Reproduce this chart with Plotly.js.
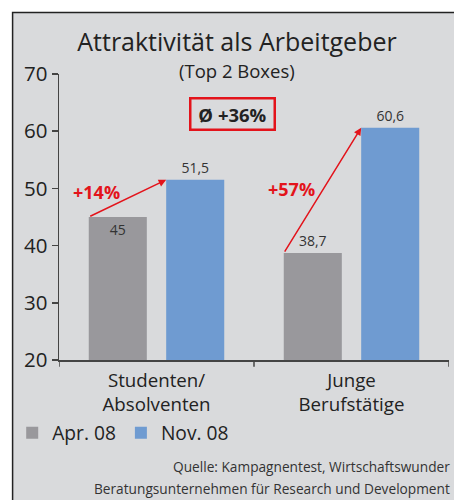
<!DOCTYPE html>
<html>
<head>
<meta charset="utf-8">
<script src="https://cdn.plot.ly/plotly-3.0.1.min.js"></script>
<style>html,body{margin:0;padding:0;background:#fff;}#chart{width:454px;height:500px;}</style>
</head>
<body>
<div id="chart"></div>
<script>
// ---- data ----
const categories = ["Studenten/<br>Absolventen", "Junge<br>Berufstätige"];
const seriesNames = ["Apr. 08", "Nov. 08"];
const apr08 = [45, 38.7];
const nov08 = [51.5, 60.6];
const changeLabels = ["+14%", "+57%"];
const averageLabel = "Ø +36%";
const titleText = "Attraktivität als Arbeitgeber";
const subtitleText = "(Top 2 Boxes)";
const sourceLines = ["Quelle: Kampagnentest, Wirtschaftswunder",
                     "Beratungsunternehmen für Research und Development"];
const yTicks = [20, 30, 40, 50, 60, 70];

// ---- style ----
const FONT = "Open Sans, Noto Sans, sans-serif";
const GRAY = "#99989c", BLUE = "#6f9bd1", RED = "#e3131b", BG = "#d9dadc", INK = "#222";
const BARGAP = 0.206, GROUPGAP = 0.25;
const slot = (1 - BARGAP) / 2;
const barW = slot * (1 - GROUPGAP);

const fmt = v => String(v).replace(".", ",");

const traces = [
  {
    type: "bar", name: seriesNames[0], x: [0, 1], y: apr08,
    marker: {color: GRAY},
    text: apr08.map(fmt),
    textposition: apr08.map((v, i) => i === 0 ? "inside" : "outside"),
    insidetextanchor: "end",
    textfont: {family: FONT, size: 14, color: "#333"},
    insidetextfont: {family: FONT, size: 14, color: "#333"},
    outsidetextfont: {family: FONT, size: 14, color: "#333"},
    textangle: 0, cliponaxis: false, hoverinfo: "skip"
  },
  {
    type: "bar", name: seriesNames[1], x: [0, 1], y: nov08,
    marker: {color: BLUE},
    text: nov08.map(fmt),
    textposition: "outside",
    textfont: {family: FONT, size: 14, color: "#333"},
    outsidetextfont: {family: FONT, size: 14, color: "#333"},
    textangle: 0, cliponaxis: false, hoverinfo: "skip"
  }
];

const annotations = [
  {xref: "paper", yref: "paper", x: 0.456, xanchor: "center", y: 1.0105, yanchor: "middle",
   text: subtitleText, showarrow: false, font: {family: FONT, size: 18.5, color: INK}},
  {xref: "paper", yref: "paper", x: 0.446, xanchor: "center", y: 0.860, yanchor: "middle",
   text: "<b>" + averageLabel + "</b>", showarrow: false, width: 78,
   font: {family: FONT, size: 18.5, color: INK}, bordercolor: RED, borderwidth: 2.5, borderpad: 2}
];
const srcY = [-0.374, -0.451];
sourceLines.forEach((t, i) => annotations.push({
  xref: "paper", yref: "paper", x: 1.008, xanchor: "right", y: srcY[i], yanchor: "middle",
  text: t, showarrow: false, font: {family: FONT, size: 13.7, color: "#333"}
}));
const labelPos = [[0.095, 0.587], [0.595, 0.598]];
for (let i = 0; i < categories.length; i++) {
  annotations.push({
    xref: "x", yref: "y", axref: "x", ayref: "y",
    x: i - slot + (slot - barW) / 2 + slot, y: nov08[i],
    ax: i - slot + (slot - barW) / 2, ay: apr08[i],
    text: "", showarrow: true, arrowhead: 2, arrowsize: 1, arrowwidth: 1.5,
    arrowcolor: RED, standoff: 0, startstandoff: 0
  });
  annotations.push({
    xref: "paper", yref: "paper", x: labelPos[i][0], xanchor: "center", y: labelPos[i][1], yanchor: "middle",
    text: "<b>" + changeLabels[i] + "</b>", showarrow: false,
    font: {family: FONT, size: 18, color: RED}
  });
}

const layout = {
  width: 454, height: 500,
  margin: {l: 59, r: 5, t: 74, b: 140},
  paper_bgcolor: "#ffffff", plot_bgcolor: "rgba(0,0,0,0)",
  font: {family: FONT, color: INK},
  title: {text: titleText, x: 0.522, xanchor: "center", y: 0.916, yanchor: "middle",
          font: {family: FONT, size: 25, color: INK}},
  barmode: "group", bargap: BARGAP, bargroupgap: GROUPGAP,
  xaxis: {
    type: "linear", range: [-0.5, 1.5],
    tickmode: "array", tickvals: [0, 1], ticktext: categories,
    ticks: "", showline: true, linecolor: "#444", linewidth: 1.5,
    showgrid: false, zeroline: false, ticklabelstandoff: 3,
    tickfont: {family: FONT, size: 18.7, color: INK}, fixedrange: true
  },
  yaxis: {
    range: [20, 70], tickmode: "array", tickvals: yTicks,
    ticks: "outside", ticklen: 6, tickwidth: 1.5, tickcolor: "#444",
    showline: true, linecolor: "#444", linewidth: 1.5,
    showgrid: false, zeroline: false,
    tickfont: {family: FONT, size: 20.5, color: INK}, fixedrange: true
  },
  showlegend: true,
  legend: {orientation: "h", x: -0.12, xanchor: "left", y: -0.188, yanchor: "top",
           bgcolor: "rgba(0,0,0,0)", font: {family: FONT, size: 19.2, color: INK},
           itemclick: false, itemdoubleclick: false},
  shapes: [
    {type: "rect", xref: "paper", yref: "paper", layer: "below",
     x0: -0.119, x1: 1.05, y0: -0.52, y1: 1.215,
     fillcolor: BG, line: {color: "#222", width: 1.5}},
    // category boundary ticks on the x axis
    ...[-0.5, 0.5, 1.5].map(b => ({type: "line", xref: "x", yref: "paper", x0: b, x1: b, y0: 0, y1: -0.024,
      line: {color: "#444", width: 1.5}}))
  ],
  annotations: annotations
};

Plotly.newPlot("chart", traces, layout, {displayModeBar: false, staticPlot: true});
</script>
</body>
</html>
